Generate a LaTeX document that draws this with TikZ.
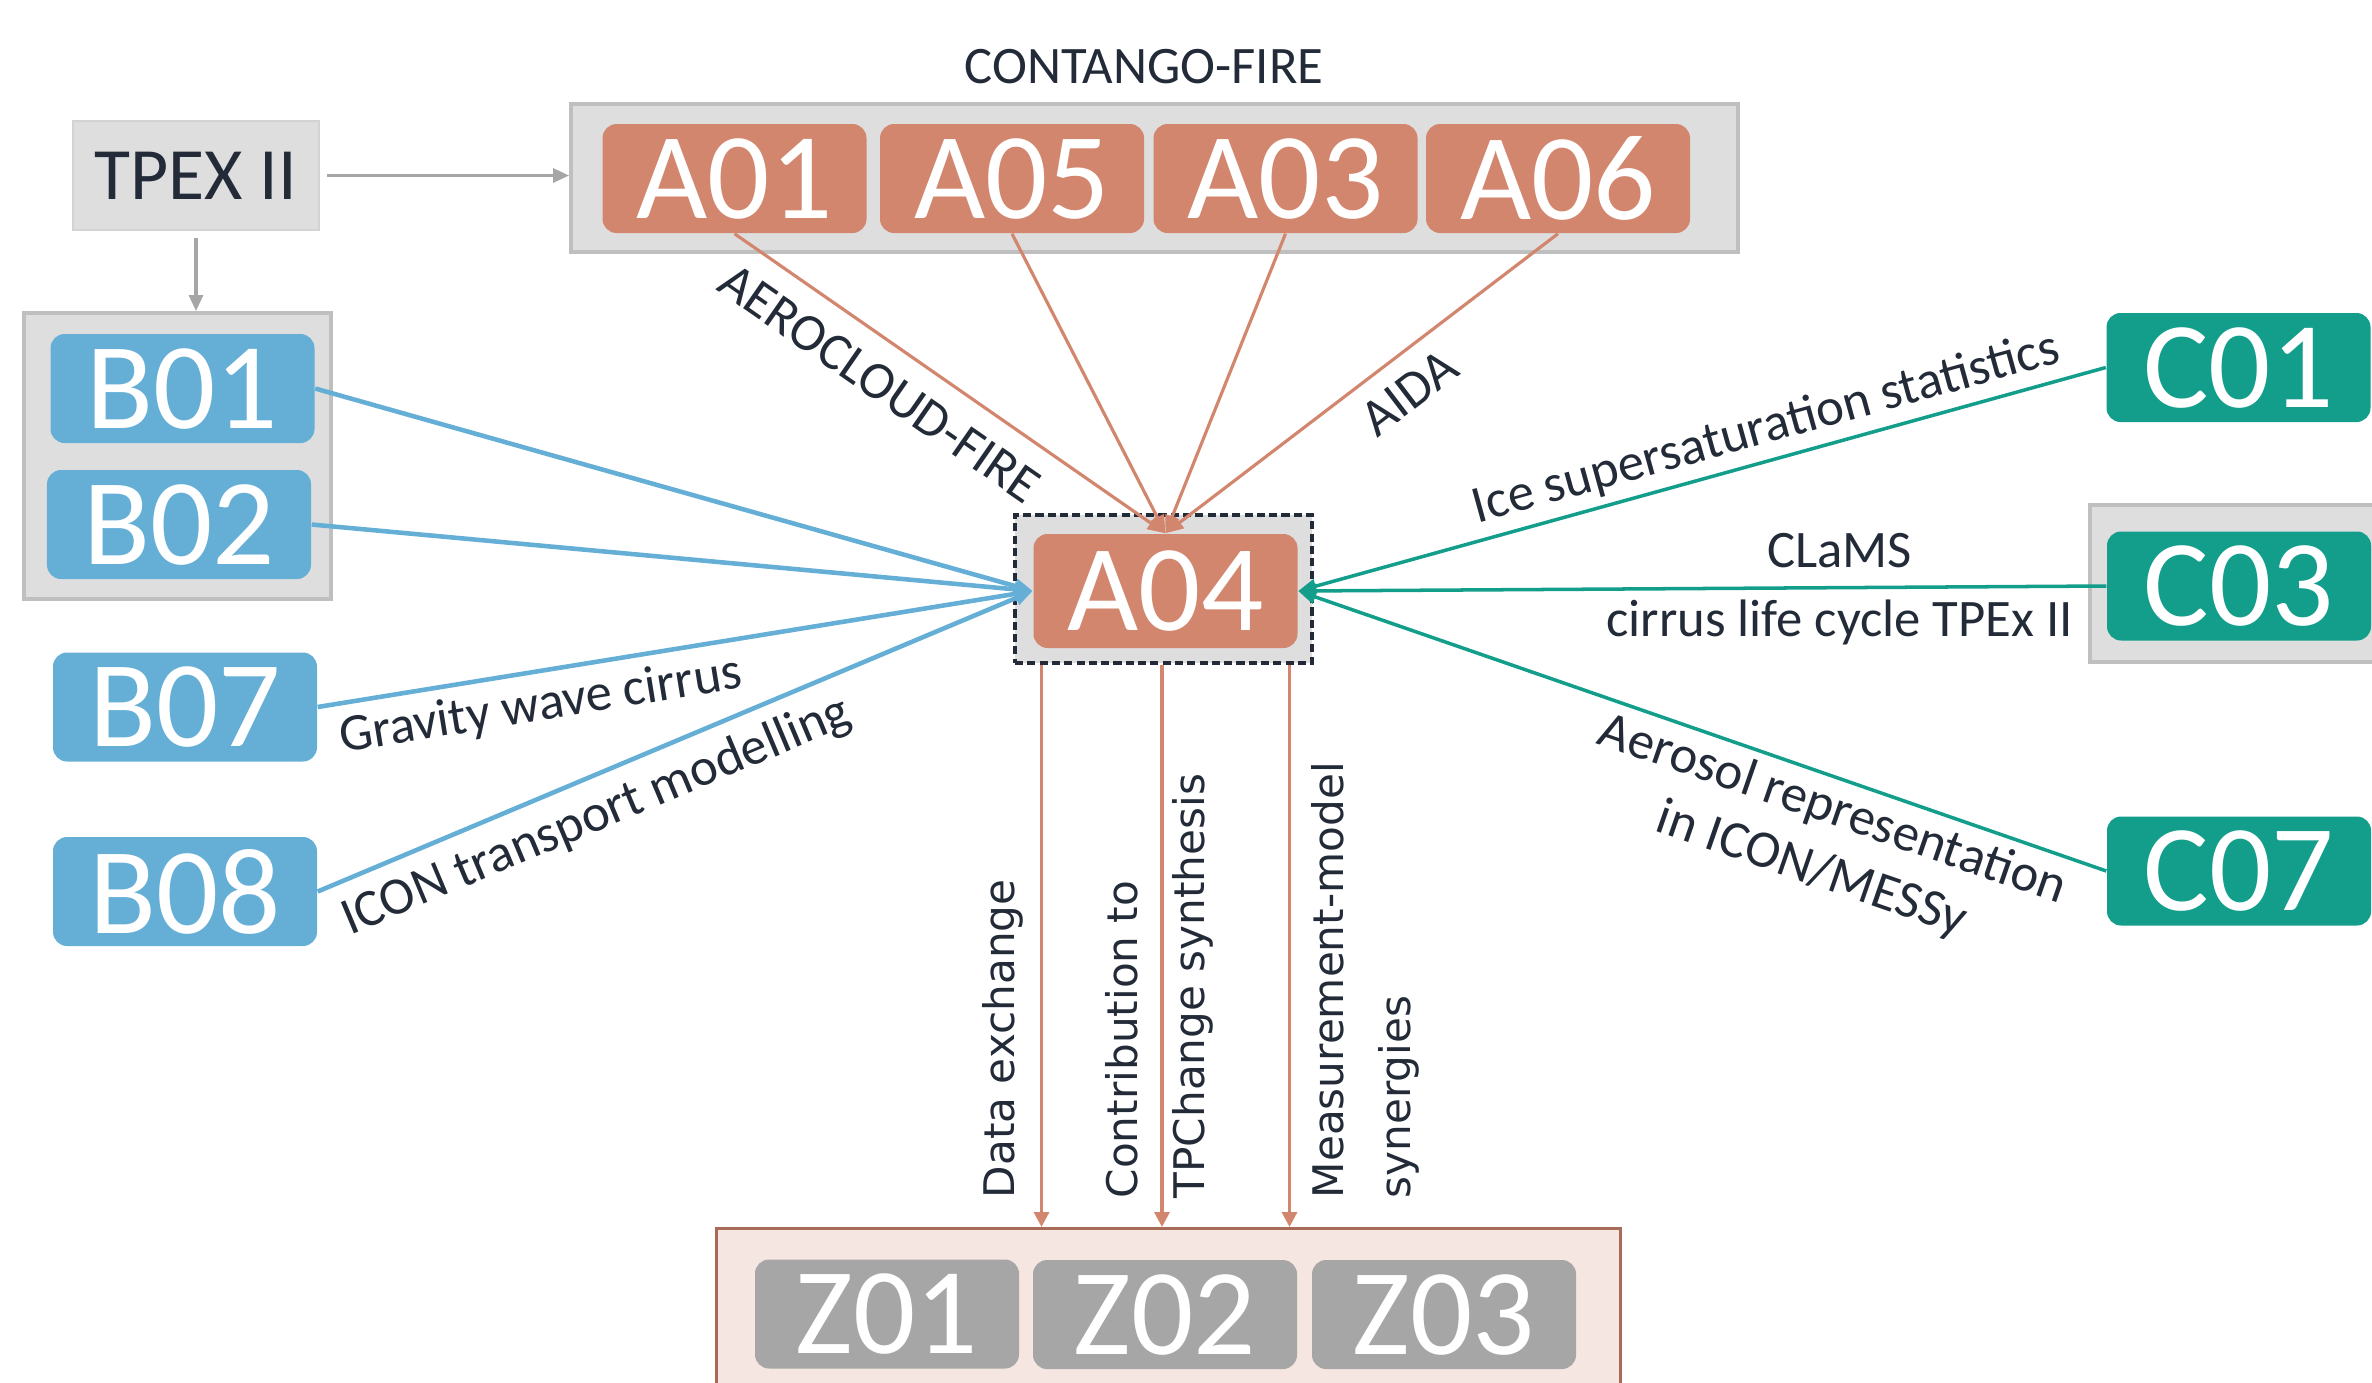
\documentclass[tikz,border=0pt]{standalone}
\usepackage{fontspec}
\setmainfont{Carlito}
\newfontfamily\widefont{DejaVu Sans}
\usetikzlibrary{arrows.meta,calc}
\definecolor{ProjA}{HTML}{D3866E}
\definecolor{ProjB}{HTML}{65AFD7}
\definecolor{ProjC}{HTML}{129E8B}
\definecolor{ProjZ}{HTML}{A6A6A6}
\definecolor{Ink}{HTML}{232B38}
\definecolor{GroupFill}{HTML}{DEDEDE}
\definecolor{GroupLine}{HTML}{BFBFBF}
\definecolor{ZFill}{HTML}{F5E6E2}
\definecolor{ZLine}{HTML}{A86B57}
\tikzset{
  project node/.style={rounded corners=4pt,inner sep=0pt,text=white,
    font=\fontsize{35}{35}\selectfont,minimum width=2.64cm,minimum height=1.09cm},
  a node/.style={project node,fill=ProjA},
  b node/.style={project node,fill=ProjB},
  c node/.style={project node,fill=ProjC},
  z node/.style={project node,fill=ProjZ},
  group box/.style={draw=GroupLine,fill=GroupFill,line width=1.1pt,inner sep=0pt},
  link label/.style={text=Ink,font=\fontsize{15}{18}\selectfont,inner sep=3pt},
  flow label/.style={text=Ink,font=\widefont\fontsize{12}{19}\selectfont,rotate=90,
    anchor=south west,align=left,inner sep=0pt},
  a link/.style={-{Triangle[length=1.8mm,width=1.4mm]},draw=ProjA,line width=0.9pt},
  b link/.style={-{Triangle[length=1.8mm,width=1.4mm]},draw=ProjB,line width=1.3pt},
  c link/.style={-{Triangle[length=1.8mm,width=1.4mm]},draw=ProjC,line width=1pt},
  down link/.style={-{Triangle[length=1.5mm,width=1.5mm]},draw=ProjA,line width=0.9pt},
  gray link/.style={-{Triangle[length=1.6mm,width=1.4mm]},draw=ProjZ,line width=0.9pt,
    shorten <=0.07cm}
}

\begin{document}
\begin{tikzpicture}
  \useasboundingbox (0,0) rectangle (23.72,-13.82);
  % groups
  \node[group box,minimum width=11.67cm,minimum height=1.48cm] (agroup) at (11.545,-1.78) {};
  \node[group box,minimum width=3.07cm,minimum height=2.86cm] (bgroup) at (1.775,-4.56) {};
  \node[group box,anchor=north west,minimum width=3.3cm,minimum height=1.57cm] (cgroup) at (20.88,-5.03) {};
  \node[draw=ZLine,fill=ZFill,line width=0.9pt,anchor=north west,minimum width=9.04cm,
    minimum height=2cm] (zgroup) at (7.15,-12.27) {};
  \node[text=Ink,font=\fontsize{15}{18}\selectfont,anchor=base] (contango) at (11.44,-0.83) {CONTANGO-FIRE};
  \node[fill=GroupFill,draw=GroupFill!95!black,line width=0.3pt,text=Ink,
    font=\fontsize{21}{21}\selectfont,minimum width=2.46cm,minimum height=1.09cm] (tpex) at (1.96,-1.755) {TPEX II};

  % projects
  \node[a node] (a01) at (7.345,-1.785) {A01};
  \node[a node] (a05) at (10.12,-1.785) {A05};
  \node[a node] (a03) at (12.855,-1.785) {A03};
  \node[a node] (a06) at (15.58,-1.785) {A06};
  \node[b node] (b01) at (1.825,-3.885) {B01};
  \node[b node] (b02) at (1.79,-5.245) {B02};
  \node[b node] (b07) at (1.85,-7.07) {B07};
  \node[b node] (b08) at (1.85,-8.915) {B08};
  \node[draw=Ink,fill=GroupFill,line width=1pt,dash pattern=on 2.3pt off 1.2pt,
    minimum width=2.97cm,minimum height=1.48cm] (a04frame) at (11.635,-5.89) {};
  \node[a node,minimum height=1.14cm] (a04) at (11.655,-5.91) {A04};
  \node[c node] (c01) at (22.385,-3.675) {C01};
  \node[c node] (c03) at (22.39,-5.86) {C03};
  \node[c node] (c07) at (22.39,-8.71) {C07};
  \node[z node] (z01) at (8.87,-13.14) {Z01};
  \node[z node] (z02) at (11.65,-13.145) {Z02};
  \node[z node] (z03) at (14.44,-13.145) {Z03};

  % links
  \draw[gray link] (tpex.east) -- (tpex.east -| agroup.west);
  \draw[gray link] (tpex.south) -- (tpex.south |- bgroup.north);
  \draw[a link] (a01.south) -- node[link label,sloped,below,pos=0.39,inner sep=6pt] {AEROCLOUD-FIRE} (a04.north);
  \draw[a link] (a05.south) -- (a04.north);
  \draw[a link] (a03.south) -- (a04.north);
  \draw[a link] (a06.south) -- node[link label,sloped,below,pos=0.435,inner sep=5pt] {AIDA} (a04.north);
  \draw[b link] (b01.east) -- (a04.west);
  \draw[b link] (b02.east) -- (a04.west);
  \draw[b link] (b07.east) -- node[link label,sloped,below,pos=0.304] {Gravity wave cirrus} (a04.west);
  \draw[b link] (b08.east) -- node[link label,sloped,below,pos=0.369,inner sep=4pt] {ICON transport modelling} (a04.west);
  \draw[c link] (c01.west) -- node[link label,sloped,above,pos=0.41,inner sep=2pt] {Ice supersaturation statistics} (a04.east);
  \draw[c link] (c03.west) -- node[link label,above,pos=0.33,inner sep=5pt] {CLaMS}
    node[link label,below,pos=0.33] {cirrus life cycle TPEx II} (a04.east);
  \draw[c link] (c07.west) -- node[link label,sloped,below,pos=0.326,inner sep=2.3pt,align=center]
    {Aerosol representation\\in ICON/MESSy} (a04.east);

  % flows to Z
  \draw[down link] ([xshift=-1.22cm]a04frame.south) -- ([xshift=-1.22cm]a04frame.south |- zgroup.north);
  \draw[down link] ([xshift=-0.015cm]a04frame.south) -- ([xshift=-0.015cm]a04frame.south |- zgroup.north);
  \draw[down link] ([xshift=1.26cm]a04frame.south) -- ([xshift=1.26cm]a04frame.south |- zgroup.north);
  \node[flow label] (flow1) at (10.24,-11.99) {Data exchange};
  \node[flow label] (flow2) at (12.14,-11.99) {Contribution to\\TPChange synthesis};
  \node[flow label] (flow3) at (14.2,-11.99) {Measurement-model\\synergies};
\end{tikzpicture}
\end{document}
